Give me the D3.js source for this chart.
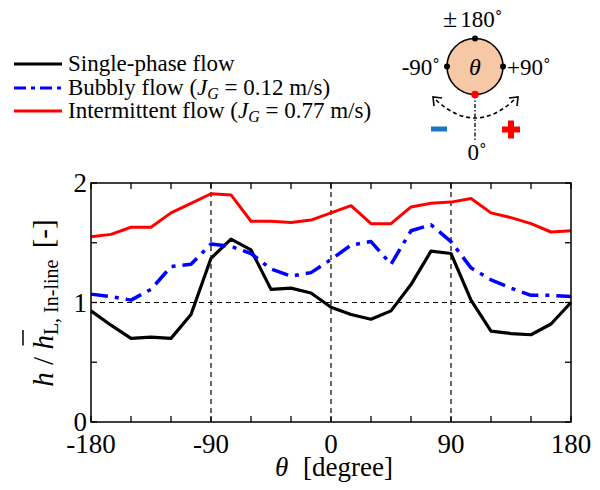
<!DOCTYPE html>
<html>
<head>
<meta charset="utf-8">
<script src="https://cdn.jsdelivr.net/npm/d3@7"></script>
<style>
  body { margin: 0; background: #fff; }
  text { font-family: 'Liberation Serif', 'Times New Roman', Times, serif; }
</style>
</head>
<body>
<svg id="chart" width="600" height="490" font-family="Liberation Serif, Times New Roman, serif"></svg>
<script>
// angle positions (degree)
const theta = [-180, -165, -150, -135, -120, -105, -90, -75, -60, -45, -30, -15, 0,
  15, 30, 45, 60, 75, 90, 105, 120, 135, 150, 165, 180];

const singlePhase = [0.93, 0.81, 0.70, 0.71, 0.70, 0.90, 1.37, 1.53, 1.44, 1.11, 1.12, 1.08, 0.96,
  0.90, 0.86, 0.93, 1.15, 1.43, 1.41, 1.02, 0.76, 0.74, 0.73, 0.82, 1.00];
const bubbly = [1.07, 1.05, 1.02, 1.11, 1.30, 1.32, 1.49, 1.47, 1.41, 1.28, 1.22, 1.25, 1.36,
  1.48, 1.51, 1.32, 1.60, 1.65, 1.51, 1.29, 1.19, 1.12, 1.06, 1.06, 1.05];
const intermittent = [1.55, 1.57, 1.63, 1.63, 1.75, 1.83, 1.91, 1.90, 1.68, 1.68, 1.67, 1.69, 1.75,
  1.81, 1.66, 1.66, 1.80, 1.83, 1.84, 1.87, 1.75, 1.71, 1.66, 1.59, 1.60];

const xTicks = [-180, -90, 0, 90, 180];
const yTicks = [0, 1, 2];
const seriesNames = ['Single-phase flow', 'Bubbly flow', 'Intermittent flow'];

const svg = d3.select('#chart');
const mLeft = 91, mRight = 571, mTop = 183, mBottom = 422;

const x = d3.scaleLinear().domain([-180, 180]).range([mLeft, mRight]);
const y = d3.scaleLinear().domain([0, 2]).range([mBottom, mTop]);

const series = [
  { name: seriesNames[0], values: singlePhase, color: '#000', width: 3.2, dash: null },
  { name: seriesNames[1], values: bubbly, color: '#0000ff', width: 3.5, dash: '17,7,4,7' },
  { name: seriesNames[2], values: intermittent, color: '#ff0000', width: 3, dash: null },
];

// reference dashed lines
const g = svg.append('g');
g.selectAll('.vref').data([-90, 0, 90]).enter().append('line')
  .attr('x1', d => x(d)).attr('x2', d => x(d))
  .attr('y1', y(0)).attr('y2', y(2))
  .attr('stroke', '#000').attr('stroke-width', 1.2).attr('stroke-dasharray', '5,4');
g.append('line')
  .attr('x1', x(-180)).attr('x2', x(180))
  .attr('y1', y(1)).attr('y2', y(1))
  .attr('stroke', '#000').attr('stroke-width', 1.2).attr('stroke-dasharray', '5,4');

// ticks inside, all four sides
const xt = d3.range(-180, 181, 30);
const yt = d3.range(0, 2.01, 0.5);
const tl = 6;
g.selectAll('.xtb').data(xt).enter().append('line')
  .attr('x1', d => x(d)).attr('x2', d => x(d)).attr('y1', mBottom).attr('y2', mBottom - tl)
  .attr('stroke', '#000').attr('stroke-width', 1.3);
g.selectAll('.xtt').data(xt).enter().append('line')
  .attr('x1', d => x(d)).attr('x2', d => x(d)).attr('y1', mTop).attr('y2', mTop + tl)
  .attr('stroke', '#000').attr('stroke-width', 1.3);
g.selectAll('.ytl').data(yt).enter().append('line')
  .attr('x1', mLeft).attr('x2', mLeft + tl).attr('y1', d => y(d)).attr('y2', d => y(d))
  .attr('stroke', '#000').attr('stroke-width', 1.3);
g.selectAll('.ytr').data(yt).enter().append('line')
  .attr('x1', mRight).attr('x2', mRight - tl).attr('y1', d => y(d)).attr('y2', d => y(d))
  .attr('stroke', '#000').attr('stroke-width', 1.3);

// data lines
const line = d3.line().x((d, i) => x(theta[i])).y(d => y(d));
series.forEach(s => {
  svg.append('path')
    .attr('d', line(s.values))
    .attr('fill', 'none')
    .attr('stroke', s.color)
    .attr('stroke-width', s.width)
    .attr('stroke-linejoin', 'round')
    .attr('stroke-dasharray', s.dash);
});

// frame
svg.append('rect')
  .attr('x', mLeft).attr('y', mTop).attr('width', mRight - mLeft).attr('height', mBottom - mTop)
  .attr('fill', 'none').attr('stroke', '#000').attr('stroke-width', 1.5);

// tick labels
svg.selectAll('.xl').data(xTicks).enter().append('text')
  .attr('x', d => x(d)).attr('y', 453)
  .attr('text-anchor', 'middle').attr('font-size', 27)
  .text(d => d);
svg.selectAll('.yl').data(yTicks).enter().append('text')
  .attr('x', 87).attr('y', d => y(d) + 9)
  .attr('text-anchor', 'end').attr('font-size', 27)
  .text(d => d);

// x title
const xTitle = svg.append('text').attr('x', 334).attr('y', 476)
  .attr('text-anchor', 'middle').attr('font-size', 27);
xTitle.append('tspan').attr('font-style', 'italic').text('θ');
xTitle.append('tspan').attr('dx', 8).text(' [degree]');

// y title
const yg = svg.append('g').attr('transform', 'translate(53,303) rotate(-90)');
const yTitle = yg.append('text').attr('text-anchor', 'middle').attr('font-size', 29);
yTitle.append('tspan').attr('font-style', 'italic').text('h');
yTitle.append('tspan').text(' / ');
yTitle.append('tspan').attr('font-style', 'italic').text('h');
yTitle.append('tspan').attr('font-size', 20).attr('dy', 5).text('L, In-line');
yTitle.append('tspan').attr('dy', -5).attr('dx', 4).text(' [-]');
// overline over the second h
const hIdx = 4;
const p0 = yTitle.node().getStartPositionOfChar(hIdx);
const p1 = yTitle.node().getEndPositionOfChar(hIdx);
yg.append('line')
  .attr('x1', p0.x + 4).attr('x2', p1.x + 5)
  .attr('y1', -30).attr('y2', -30)
  .attr('stroke', '#000').attr('stroke-width', 1.5);

// legend
const leg = svg.append('g');
const legY = [64, 88, 111];
const legLabels = [
  [{ t: 'Single-phase flow' }],
  [{ t: 'Bubbly flow (' }, { t: 'J', i: true }, { t: 'G', i: true, sub: true }, { t: ' = 0.12 m/s)' }],
  [{ t: 'Intermittent flow (' }, { t: 'J', i: true }, { t: 'G', i: true, sub: true }, { t: ' = 0.77 m/s)' }],
];
series.forEach((s, k) => {
  leg.append('line')
    .attr('x1', 14).attr('x2', 62).attr('y1', legY[k]).attr('y2', legY[k])
    .attr('stroke', s.color).attr('stroke-width', 3)
    .attr('stroke-dasharray', s.dash ? '12,5,4,5' : null);
  const t = leg.append('text').attr('x', 68).attr('y', legY[k] + 7).attr('font-size', 23);
  let shifted = false;
  legLabels[k].forEach(p => {
    const ts = t.append('tspan').text(p.t);
    if (p.i) ts.attr('font-style', 'italic');
    if (p.sub) { ts.attr('font-size', 16).attr('dy', 4); shifted = true; }
    else if (shifted) { ts.attr('dy', -4); shifted = false; }
  });
});

// orientation sketch
const cx = 475, cy = 66.5, r = 28;
const sk = svg.append('g');
sk.append('line').attr('x1', cx).attr('x2', cx).attr('y1', cy + r).attr('y2', 142)
  .attr('stroke', '#000').attr('stroke-width', 1.3).attr('stroke-dasharray', '4,2,1.5,2');
sk.append('path').attr('d', `M436,100 Q${cx},136 514,100`)
  .attr('fill', 'none').attr('stroke', '#000').attr('stroke-width', 1.6).attr('stroke-dasharray', '4,3');
sk.append('path').attr('d', 'M434,106 L433,97 L442,98')
  .attr('fill', 'none').attr('stroke', '#000').attr('stroke-width', 1.6);
sk.append('path').attr('d', 'M509,98 L518,97 L517,106')
  .attr('fill', 'none').attr('stroke', '#000').attr('stroke-width', 1.6);
sk.append('circle').attr('cx', cx).attr('cy', cy).attr('r', r)
  .attr('fill', '#f7c8a6').attr('stroke', '#000').attr('stroke-width', 1.6);
[[cx, cy - r], [cx - r, cy], [cx + r, cy]].forEach(p => {
  sk.append('circle').attr('cx', p[0]).attr('cy', p[1]).attr('r', 3).attr('fill', '#000');
});
sk.append('circle').attr('cx', cx).attr('cy', cy + r).attr('r', 3.8).attr('fill', '#ff0000');
sk.append('text').attr('x', cx).attr('y', 75).attr('text-anchor', 'middle')
  .attr('font-size', 24).attr('font-style', 'italic').text('θ');
const top180 = sk.append('text').attr('x', 443).attr('y', 27).attr('font-size', 23);
top180.append('tspan').attr('font-size', 26).text('±');
top180.append('tspan').attr('dx', 3).text('180˚');
sk.append('text').attr('x', 440).attr('y', 75).attr('text-anchor', 'end')
  .attr('font-size', 23).text('-90˚');
sk.append('text').attr('x', 507).attr('y', 75).attr('text-anchor', 'start')
  .attr('font-size', 23).text('+90˚');
sk.append('text').attr('x', cx + 2).attr('y', 160).attr('text-anchor', 'middle')
  .attr('font-size', 23).text('0˚');
sk.append('rect').attr('x', 431).attr('y', 126.5).attr('width', 16).attr('height', 5)
  .attr('fill', '#1f74c4');
sk.append('rect').attr('x', 502).attr('y', 126.5).attr('width', 18).attr('height', 6).attr('fill', '#ff0000');
sk.append('rect').attr('x', 508).attr('y', 120.5).attr('width', 6).attr('height', 18).attr('fill', '#ff0000');
</script>
</body>
</html>
